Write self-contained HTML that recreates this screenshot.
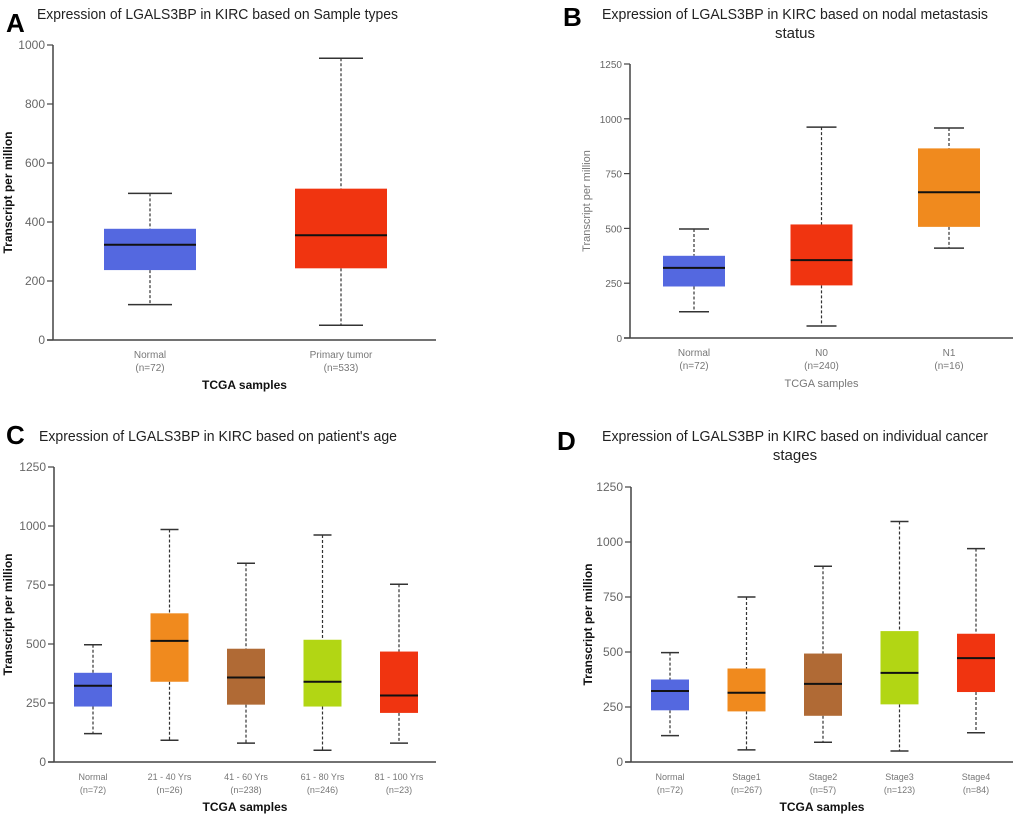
<!DOCTYPE html>
<html><head><meta charset="utf-8"><style>
body{margin:0;background:#fff;}
svg{display:block;font-family:"Liberation Sans",sans-serif;}
</style></head><body>
<svg id="fig" width="1020" height="822" viewBox="0 0 1020 822" xmlns="http://www.w3.org/2000/svg">
<text x="6" y="32" font-size="26" font-weight="bold">A</text>
<text x="37" y="19" font-size="15" fill="#222" textLength="361" lengthAdjust="spacingAndGlyphs">Expression of LGALS3BP in KIRC based on Sample types</text>
<text x="563" y="26" font-size="26" font-weight="bold">B</text>
<text x="602" y="19" font-size="15" fill="#222" textLength="386" lengthAdjust="spacingAndGlyphs">Expression of LGALS3BP in KIRC based on nodal metastasis</text>
<text x="795" y="38" font-size="15" fill="#222" text-anchor="middle">status</text>
<text x="6" y="444" font-size="26" font-weight="bold">C</text>
<text x="39" y="441" font-size="15" fill="#222" textLength="358" lengthAdjust="spacingAndGlyphs">Expression of LGALS3BP in KIRC based on patient's age</text>
<text x="557" y="450" font-size="26" font-weight="bold">D</text>
<text x="602" y="441" font-size="15" fill="#222" textLength="386" lengthAdjust="spacingAndGlyphs">Expression of LGALS3BP in KIRC based on individual cancer</text>
<text x="795" y="460" font-size="15" fill="#222" text-anchor="middle">stages</text>
</svg>
<script>
// Panel A data
const catsA = ["Normal","Primary tumor"];
const nA = ["(n=72)","(n=533)"];
const minA = [120, 50], q1A = [237, 243], medA = [323, 355], q3A = [377, 513], maxA = [497, 955];
const ticksA = [0,200,400,600,800,1000];
// Panel B data
const catsB = ["Normal","N0","N1"];
const nB = ["(n=72)","(n=240)","(n=16)"];
const minB = [120, 55, 410], q1B = [235, 240, 507], medB = [320, 355, 665], q3B = [375, 518, 865], maxB = [497, 962, 958];
const ticksB = [0,250,500,750,1000,1250];
// Panel C data
const catsC = ["Normal","21 - 40 Yrs","41 - 60 Yrs","61 - 80 Yrs","81 - 100 Yrs"];
const nC = ["(n=72)","(n=26)","(n=238)","(n=246)","(n=23)"];
const minC = [120, 92, 80, 50, 80], q1C = [235, 340, 243, 235, 208], medC = [323, 513, 358, 340, 282], q3C = [378, 630, 480, 518, 468], maxC = [497, 985, 842, 962, 753];
const ticksC = [0,250,500,750,1000,1250];
// Panel D data
const catsD = ["Normal","Stage1","Stage2","Stage3","Stage4"];
const nD = ["(n=72)","(n=267)","(n=57)","(n=123)","(n=84)"];
const minD = [120, 55, 90, 50, 133], q1D = [235, 230, 210, 262, 318], medD = [323, 315, 355, 405, 472], q3D = [375, 425, 493, 595, 583], maxD = [497, 750, 890, 1093, 970];
const ticksD = [0,250,500,750,1000,1250];

const NS = "http://www.w3.org/2000/svg";
const svg = document.getElementById("fig");
function mk(tag, attrs, parent){const e=document.createElementNS(NS,tag);for(const k in attrs)e.setAttribute(k,attrs[k]);(parent||svg).appendChild(e);return e;}

function panel(id, cfg, cats, ns, mins, q1s, meds, q3s, maxs, ticks, colors){
  const g = mk("g",{});
  
  
  const ymax = ticks[ticks.length-1];
  const y = v => cfg.y0 - (v/ymax)*(cfg.y0-cfg.yTop);
  const x = i => cfg.c0 + i*cfg.step;
  const ya = mk("line",{x1:cfg.ax,x2:cfg.ax,y1:cfg.yTop,y2:cfg.y0,stroke:"#444","stroke-width":1.5},g);
  
  
  const xa = mk("line",{x1:cfg.ax-6,x2:cfg.axEnd,y1:cfg.y0,y2:cfg.y0,stroke:"#444","stroke-width":1.5},g);
  
  
  ticks.forEach(t=>{
    mk("line",{x1:cfg.ax-6,x2:cfg.ax,y1:y(t),y2:y(t),stroke:"#444","stroke-width":1.2},g);
    const tl = mk("text",{x:cfg.ax-8,y:y(t)+4,"font-size":cfg.tfs,fill:"#666","text-anchor":"end"},g);
    tl.textContent = t;
    
    
  });
  const yt = mk("text",{x:0,y:0,"font-size":cfg.ytfs,"font-weight":cfg.ytBold?"bold":"normal",fill:cfg.ytBold?"#111":"#777","text-anchor":"middle",transform:`translate(${cfg.ytx},${(cfg.yTop+cfg.y0)/2}) rotate(-90)`},g);
  yt.textContent = "Transcript per million";
  
  
  const xt = mk("text",{x:(cfg.ax+cfg.axEnd)/2,y:cfg.y0+49,"font-size":cfg.xtBold?12:11,"font-weight":cfg.xtBold?"bold":"normal",fill:cfg.xtBold?"#111":"#777","text-anchor":"middle"},g);
  xt.textContent = "TCGA samples";
  
  
  cats.forEach((c,i)=>{
    const cx = x(i);
    const bg = mk("g",{},g);
    
    
    mk("line",{x1:cx,x2:cx,y1:y(maxs[i]),y2:y(q3s[i]),stroke:"#333","stroke-width":1.2,"stroke-dasharray":"3,2"},bg);
    mk("line",{x1:cx,x2:cx,y1:y(q1s[i]),y2:y(mins[i]),stroke:"#333","stroke-width":1.2,"stroke-dasharray":"3,2"},bg);
    mk("line",{x1:cx-cfg.cap,x2:cx+cfg.cap,y1:y(maxs[i]),y2:y(maxs[i]),stroke:"#333","stroke-width":1.5},bg);
    mk("line",{x1:cx-cfg.cap,x2:cx+cfg.cap,y1:y(mins[i]),y2:y(mins[i]),stroke:"#333","stroke-width":1.5},bg);
    mk("rect",{x:cx-cfg.hw,y:y(q3s[i]),width:2*cfg.hw,height:y(q1s[i])-y(q3s[i]),fill:colors[i]},bg);
    mk("line",{x1:cx-cfg.hw,x2:cx+cfg.hw,y1:y(meds[i]),y2:y(meds[i]),stroke:"#111","stroke-width":2},bg);
    const l1 = mk("text",{x:cx,y:cfg.y0+18,"font-size":cfg.cfs,fill:"#777","text-anchor":"middle"},g);
    l1.textContent = c;
    
    
    const l2 = mk("text",{x:cx,y:cfg.y0+31,"font-size":cfg.cfs,fill:"#777","text-anchor":"middle"},g);
    l2.textContent = ns[i];
    
    
  });
}
const BLUE="#5468e0",RED="#f03410",ORANGE="#f08a1e",BROWN="#b06a35",LIME="#b2d614";
panel("a",{ax:53,axEnd:436,yTop:45,y0:340,c0:150,step:191,hw:46,cap:22,tfs:12,cfs:10,ytfs:12,ytBold:true,ytx:12,xtBold:true},catsA,nA,minA,q1A,medA,q3A,maxA,ticksA,[BLUE,RED]);
panel("b",{ax:630,axEnd:1013,yTop:64,y0:338,c0:694,step:127.5,hw:31,cap:15,tfs:10,cfs:10,ytfs:11,ytBold:false,ytx:590,xtBold:false},catsB,nB,minB,q1B,medB,q3B,maxB,ticksB,[BLUE,RED,ORANGE]);
panel("c",{ax:54,axEnd:436,yTop:467,y0:762,c0:93,step:76.5,hw:19,cap:9,tfs:12,cfs:9,ytfs:12,ytBold:true,ytx:12,xtBold:true},catsC,nC,minC,q1C,medC,q3C,maxC,ticksC,[BLUE,ORANGE,BROWN,LIME,RED]);
panel("d",{ax:631,axEnd:1013,yTop:487,y0:762,c0:670,step:76.5,hw:19,cap:9,tfs:12,cfs:9,ytfs:12,ytBold:true,ytx:592,xtBold:true},catsD,nD,minD,q1D,medD,q3D,maxD,ticksD,[BLUE,ORANGE,BROWN,LIME,RED]);
</script>
</body></html>
